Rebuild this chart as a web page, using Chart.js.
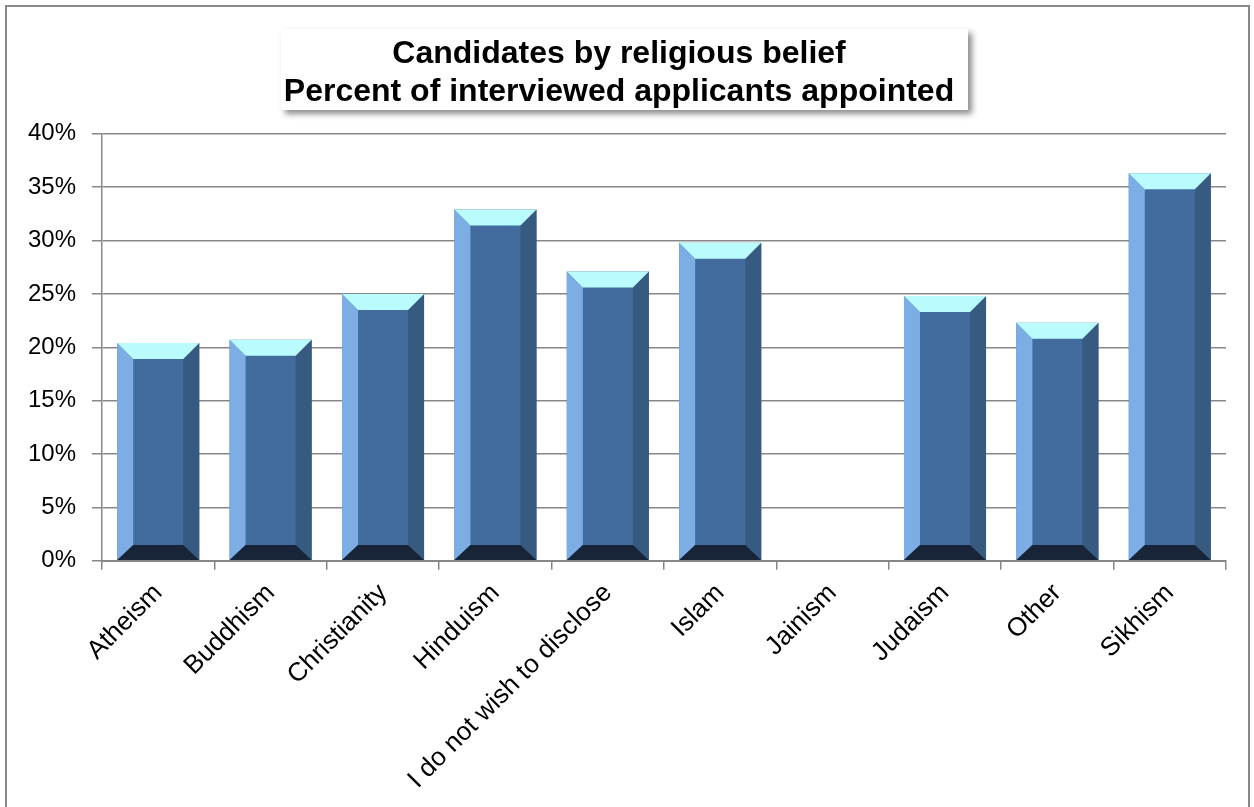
<!DOCTYPE html>
<html>
<head>
<meta charset="utf-8">
<script src="https://cdn.jsdelivr.net/npm/chart.js@4.4.1/dist/chart.umd.min.js"></script>
<style>
  html, body { margin: 0; padding: 0; background: #fff; }
  #wrap { width: 1254px; height: 807px; }
</style>
</head>
<body>
<div id="wrap"><canvas id="chart" width="1254" height="807"></canvas></div>
<script>
const categories = ['Atheism', 'Buddhism', 'Christianity', 'Hinduism', 'I do not wish to disclose',
  'Islam', 'Jainism', 'Judaism', 'Other', 'Sikhism'];
const appointedPct = [20.4, 20.7, 25.0, 32.9, 27.1, 29.8, 0, 24.8, 22.3, 36.3];
const titleLines = ['Candidates by religious belief', 'Percent of interviewed applicants appointed'];
const yMax = 40, yStep = 5;

const FONT = '"Liberation Sans", Arial, sans-serif';
const GRID = '#878787';

// outer frame + title box with shadow
const frameAndTitle = {
  id: 'frameAndTitle',
  beforeDraw(chart) {
    const ctx = chart.ctx;
    ctx.save();
    ctx.fillStyle = '#fff';
    ctx.fillRect(0, 0, chart.width, chart.height);
    ctx.strokeStyle = '#898989';
    ctx.lineWidth = 2;
    ctx.strokeRect(6, 6, chart.width - 11, chart.height + 10);

    ctx.shadowColor = 'rgba(0,0,0,0.45)';
    ctx.shadowBlur = 6;
    ctx.shadowOffsetX = 4;
    ctx.shadowOffsetY = 4;
    ctx.fillStyle = '#fff';
    ctx.fillRect(281, 29, 687, 81);
    ctx.restore();
  }
};

// Excel-like bevel on each bar
const bevel = {
  id: 'bevel',
  afterDatasetsDraw(chart) {
    const ctx = chart.ctx;
    const meta = chart.getDatasetMeta(0);
    meta.data.forEach(bar => {
      const p = bar.getProps(['x', 'y', 'base', 'width'], true);
      const l = p.x - p.width / 2, r = p.x + p.width / 2;
      const t = p.y, b = p.base;
      if (b - t < 2) return;
      const d = Math.min(16, (b - t) / 2);
      const bd = Math.min(15, (b - t) / 2);
      const poly = (pts, c) => {
        ctx.beginPath();
        ctx.moveTo(pts[0][0], pts[0][1]);
        pts.slice(1).forEach(q => ctx.lineTo(q[0], q[1]));
        ctx.closePath();
        ctx.fillStyle = c;
        ctx.fill();
      };
      ctx.save();
      poly([[l, t], [l + d, t + d], [l + d, b - bd], [l, b]], '#7cade5');
      poly([[r, t], [r - d, t + d], [r - d, b - bd], [r, b]], '#365a80');
      poly([[l, t], [r, t], [r - d, t + d], [l + d, t + d]], '#bafcfe');
      poly([[l, b], [r, b], [r - d, b - bd], [l + d, b - bd]], '#182438');
      ctx.restore();
    });
  }
};

new Chart(document.getElementById('chart'), {
  type: 'bar',
  data: {
    labels: categories,
    datasets: [{
      label: 'Appointed',
      data: appointedPct,
      backgroundColor: '#416c9d',
      borderWidth: 0,
      categoryPercentage: 1,
      barPercentage: 0.73
    }]
  },
  options: {
    responsive: false,
    animation: false,
    devicePixelRatio: 1,
    layout: { padding: { left: 12, right: 28, top: 0, bottom: 4 } },
    plugins: {
      legend: { display: false },
      tooltip: { enabled: false },
      title: {
        display: true,
        text: titleLines,
        color: '#000',
        font: { family: FONT, size: 32, weight: 'bold', lineHeight: 1.2 },
        padding: { top: 35, bottom: 22 }
      }
    },
    scales: {
      x: {
        grid: {
          display: true,
          drawOnChartArea: false,
          drawTicks: true,
          tickLength: 9,
          color: GRID,
          lineWidth: 1.5,
          offset: true
        },
        border: { color: GRID, width: 2 },
        ticks: {
          color: '#000',
          font: { family: FONT, size: 26 },
          maxRotation: 45,
          minRotation: 45,
          padding: 8,
          autoSkip: false
        }
      },
      y: {
        min: 0,
        max: yMax,
        grid: {
          color: GRID,
          lineWidth: 1.5,
          tickLength: 10
        },
        border: { color: GRID, width: 1.5 },
        ticks: {
          stepSize: yStep,
          color: '#000',
          font: { family: FONT, size: 24 },
          padding: 16,
          callback: v => v + '%'
        }
      }
    }
  },
  plugins: [frameAndTitle, bevel]
});
</script>
</body>
</html>
